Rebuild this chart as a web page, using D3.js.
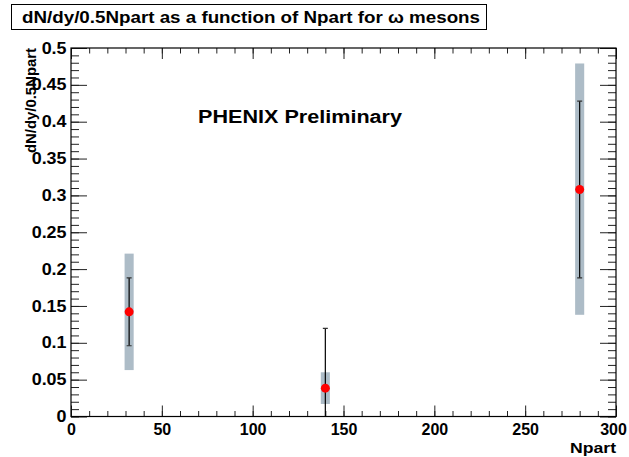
<!DOCTYPE html>
<html>
<head>
<meta charset="utf-8">
<script src="https://cdn.jsdelivr.net/npm/d3@7"></script>
<style>
body { margin: 0; background: #fff; }
text { font-family: "Liberation Sans", Arial, sans-serif; font-weight: bold; }
</style>
</head>
<body>
<div id="canvas"></div>
<script>
// data
const npart = [32, 140, 280];
const values = [0.142, 0.0385, 0.308];
const statErr = [0.046, 0.081, 0.12];
const sysLow = [0.063, 0.017, 0.138];
const sysHigh = [0.221, 0.060, 0.479];

const xMajor = [0, 50, 100, 150, 200, 250, 300];
const yMajor = [0, 0.05, 0.1, 0.15, 0.2, 0.25, 0.3, 0.35, 0.4, 0.45, 0.5];

const width = 629;
const height = 457;
const margin = { top: 48, left: 71, bottom: 40.5, right: 13 };
const iwidth = width - margin.left - margin.right;
const iheight = height - margin.top - margin.bottom;

const svg = d3.select("#canvas").append("svg")
    .attr("width", width)
    .attr("height", height);

svg.append("rect").attr("width", width).attr("height", height).attr("fill", "#fff");

const g = svg.append("g").attr("transform", `translate(${margin.left},${margin.top})`);

const x = d3.scaleLinear().domain([0, 300]).range([0, iwidth]);
const y = d3.scaleLinear().domain([0, 0.5]).range([iheight, 0]);

const xMinor = d3.range(0, 301, 10);
const yMinor = d3.range(0, 51, 1).map(d => d / 100);

// ticks on all four sides, pointing inward
function ticks(axis, len, vals, tr) {
    const a = g.append("g")
        .attr("transform", tr)
        .call(axis.tickValues(vals).tickSize(len).tickFormat(""));
    a.select(".domain").remove();
    a.selectAll("line").attr("stroke", "#222");
}
ticks(d3.axisBottom(x), -5.5, xMinor, `translate(0,${iheight})`);
ticks(d3.axisBottom(x), -11, xMajor, `translate(0,${iheight})`);
ticks(d3.axisTop(x), -5.5, xMinor, "translate(0,0)");
ticks(d3.axisTop(x), -11, xMajor, "translate(0,0)");
ticks(d3.axisLeft(y), -8, yMinor, "translate(0,0)");
ticks(d3.axisLeft(y), -16, yMajor, "translate(0,0)");
ticks(d3.axisRight(y), -8, yMinor, `translate(${iwidth},0)`);
ticks(d3.axisRight(y), -16, yMajor, `translate(${iwidth},0)`);

// tick labels
const xl = g.append("g")
    .attr("transform", `translate(0,${iheight})`)
    .call(d3.axisBottom(x).tickValues(xMajor).tickSize(0).tickPadding(7).tickFormat(d3.format("d")));
xl.select(".domain").remove();
xl.selectAll("text").style("font-size", "16px").attr("fill", "#000")
    .attr("dx", d => d === 300 ? -3 : 0);

const yl = g.append("g")
    .call(d3.axisLeft(y).tickValues(yMajor).tickSize(0).tickPadding(4).tickFormat(d => d3.format("")(+d.toFixed(2))));
yl.select(".domain").remove();
yl.selectAll("text").style("font-size", "16px").attr("fill", "#000")
    .attr("transform", "scale(1.12,1)");

g.append("rect")
    .attr("width", iwidth)
    .attr("height", iheight)
    .attr("fill", "none")
    .attr("stroke", "#000")
    .attr("stroke-width", 1.2);

svg.append("clipPath").attr("id", "clip")
    .append("rect").attr("width", iwidth).attr("height", iheight);

const plot = g.append("g").attr("clip-path", "url(#clip)");

const idx = d3.range(npart.length);

// systematic boxes
plot.selectAll("rect.sys").data(idx).enter().append("rect")
    .attr("class", "sys")
    .attr("x", i => x(npart[i] - 2.5))
    .attr("width", x(5) - x(0))
    .attr("y", i => y(sysHigh[i]))
    .attr("height", i => y(sysLow[i]) - y(sysHigh[i]))
    .attr("fill", "#adbcc7");

// statistical error bars
plot.selectAll("line.stat").data(idx).enter().append("line")
    .attr("x1", i => x(npart[i])).attr("x2", i => x(npart[i]))
    .attr("y1", i => y(values[i] + statErr[i]))
    .attr("y2", i => y(values[i] - statErr[i]))
    .attr("stroke", "#000").attr("stroke-width", 1.2);

const caps = [];
idx.forEach(i => {
    caps.push(values[i] + statErr[i]);
    caps.push(values[i] - statErr[i]);
});
plot.selectAll("line.cap").data(caps).enter().append("line")
    .attr("x1", (d, k) => x(npart[Math.floor(k / 2)]) - 2.5)
    .attr("x2", (d, k) => x(npart[Math.floor(k / 2)]) + 2.5)
    .attr("y1", d => y(d)).attr("y2", d => y(d))
    .attr("stroke", "#333").attr("stroke-width", 1.2);

plot.selectAll("circle").data(idx).enter().append("circle")
    .attr("cx", i => x(npart[i]))
    .attr("cy", i => y(values[i]))
    .attr("r", 4.5)
    .attr("fill", "#ff0000");

// texts
svg.append("rect")
    .attr("x", 11.5).attr("y", 4.5)
    .attr("width", 475).attr("height", 25)
    .attr("fill", "#fff").attr("stroke", "#000");

svg.append("text")
    .attr("x", 22).attr("y", 23)
    .style("font-size", "16px")
    .attr("textLength", 458).attr("lengthAdjust", "spacingAndGlyphs")
    .text("dN/dy/0.5Npart as a function of Npart for ω mesons");

g.append("text")
    .attr("x", 198 - margin.left).attr("y", 75)
    .style("font-size", "18px")
    .attr("textLength", 204).attr("lengthAdjust", "spacingAndGlyphs")
    .text("PHENIX Preliminary");

svg.append("text")
    .attr("transform", `translate(36,${margin.top}) rotate(-90)`)
    .attr("text-anchor", "end")
    .style("font-size", "15px")
    .attr("textLength", 105).attr("lengthAdjust", "spacingAndGlyphs")
    .text("dN/dy/0.5Npart");

svg.append("text")
    .attr("x", margin.left + iwidth).attr("y", 453)
    .attr("text-anchor", "end")
    .style("font-size", "15px")
    .attr("textLength", 46).attr("lengthAdjust", "spacingAndGlyphs")
    .text("Npart");
</script>
</body>
</html>
